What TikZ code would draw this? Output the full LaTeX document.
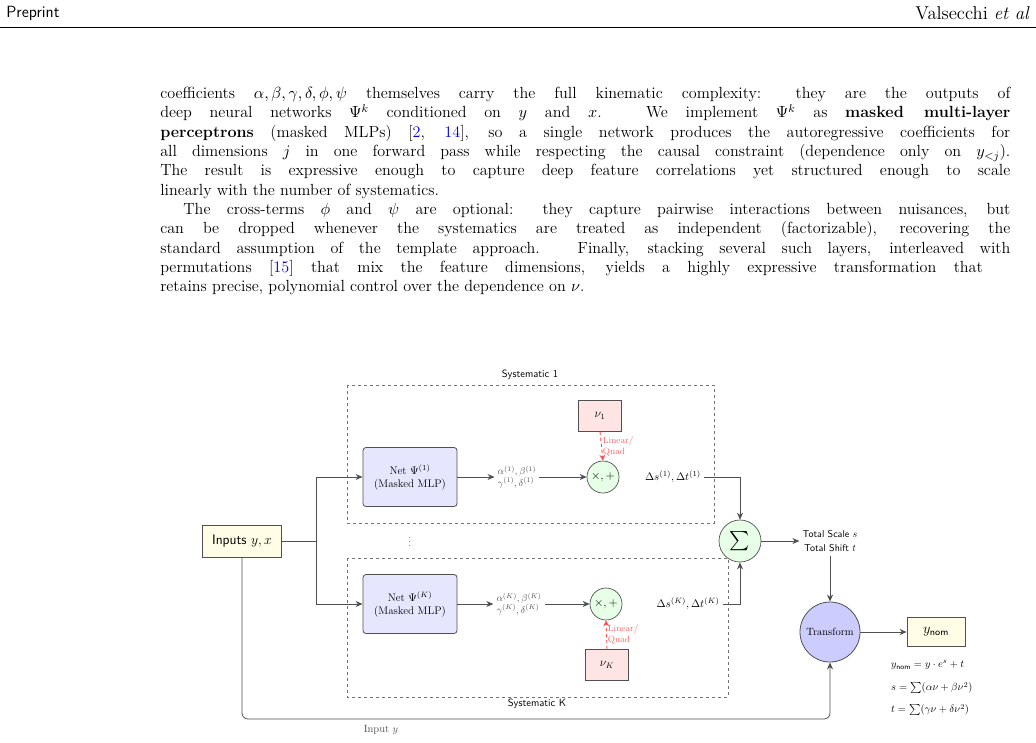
\RequirePackage{fix-cm}
\documentclass[tikz,border=0pt]{standalone}
\usepackage{amsmath}
\usetikzlibrary{arrows.meta,calc}
\definecolor{lnk}{RGB}{0,0,230}
\definecolor{ln}{RGB}{80,80,80}
\begin{document}
\begin{tikzpicture}[x=1pt,y=-1pt,
  line/.style={draw=ln,line width=0.8pt},
  arr/.style={line,-{Stealth[length=7pt,width=6pt]}},
  net/.style={draw=ln,line width=0.8pt,fill={rgb,255:red,230;green,230;blue,255},rounded corners=3pt,minimum width=94pt,minimum height=59pt,align=center,font=\fontsize{11}{13}\selectfont},
  op/.style={circle,draw=ln,line width=0.7pt,fill={rgb,255:red,230;green,255;blue,230},minimum size=32pt,inner sep=0pt,font=\fontsize{12}{14}\selectfont},
  nu/.style={draw=ln,line width=0.7pt,fill={rgb,255:red,255;green,228;blue,228},minimum width=43pt,minimum height=31pt,inner sep=0pt,font=\fontsize{12}{14}\selectfont},
  coef/.style={text=ln,align=left,inner sep=0pt,font=\fontsize{10}{11.5}\selectfont},
  dl/.style={inner sep=0pt,font=\fontsize{11}{13}\selectfont},
  sysbox/.style={draw=ln!80,dashed,line width=0.6pt},
  red/.style={draw={rgb,255:red,255;green,80;blue,80},dashed,line width=0.9pt,-{Stealth[length=6pt,width=6pt]}},
  redl/.style={text={rgb,255:red,255;green,100;blue,100},align=left,inner sep=1pt,font=\fontsize{9}{11}\selectfont},
  eq/.style={anchor=west,inner sep=0pt,font=\fontsize{10.5}{12}\selectfont}
]
\useasboundingbox (0,0) rectangle (1036,742);
% header
\node[anchor=west,inner sep=0pt,scale=1.35,font=\sffamily\fontsize{12}{14}\selectfont] (hl) at (6,13) {Preprint};
\node[anchor=east,inner sep=0pt,scale=1.55,font=\fontsize{12}{14}\selectfont] (hr) at (1030,13) {Valsecchi \emph{et al}};
\draw[line width=0.5pt] (0,27) -- (1036,27);
% paragraph
\node[anchor=north west,inner sep=0pt,scale=1.38,text width=616pt,align=justify,font=\fontsize{11.7}{14}\selectfont] (par) at (160,87) {%
coefficients $\alpha,\beta,\gamma,\delta,\phi,\psi$ themselves carry the full kinematic complexity: they are the outputs of\linebreak
deep neural networks $\Psi^k$ conditioned on $y$ and $x$. We implement $\Psi^k$ as \textbf{masked multi-layer}\linebreak
\textbf{perceptrons} (masked MLPs) [\textcolor{lnk}{2}, \textcolor{lnk}{14}], so a single network produces the autoregressive coefficients for\linebreak
all dimensions $j$ in one forward pass while respecting the causal constraint (dependence only on $y_{<j}$).\linebreak
The result is expressive enough to capture deep feature correlations yet structured enough to scale\linebreak
linearly with the number of systematics.\par
\hspace*{16.7pt}The cross-terms $\phi$ and $\psi$ are optional: they capture pairwise interactions between nuisances, but\linebreak
can be dropped whenever the systematics are treated as independent (factorizable), recovering the\linebreak
standard assumption of the template approach. Finally, stacking several such layers, interleaved with\linebreak
permutations [\textcolor{lnk}{15}] that mix the feature dimensions, yields a highly expressive transformation that\hspace*{20pt}\linebreak
retains precise, polynomial control over the dependence on $\nu$.};
% systematic boxes
\draw[sysbox] (347,385) rectangle (714,523);
\node[inner sep=0pt,font=\sffamily\fontsize{10.5}{12}\selectfont] (s1) at (530,375) {Systematic 1};
\draw[sysbox] (347,558) rectangle (728,697);
\node[inner sep=0pt,font=\sffamily\fontsize{10.5}{12}\selectfont] (sk) at (537,704) {Systematic K};
% nodes
\node[draw=ln,line width=0.8pt,fill={rgb,255:red,255;green,253;blue,230},minimum width=79pt,minimum height=32pt,inner sep=0pt,font=\sffamily\fontsize{12}{14}\selectfont] (in) at (242,541) {\scalebox{1.15}{Inputs $y,x$}};
\coordinate (j) at (316,541);
\node[net] (n1) at (410,477) {Net $\Psi^{(1)}$\\(Masked MLP)};
\node[net] (nk) at (410,604) {Net $\Psi^{(K)}$\\(Masked MLP)};
\node[inner sep=0pt,font=\fontsize{9}{10}\selectfont] (dots) at (410,539) {$\vdots$};
\node[coef] (c1) at (517,477) {$\alpha^{(1)},\beta^{(1)}$\\$\gamma^{(1)},\delta^{(1)}$};
\node[coef] (ck) at (519,604) {$\alpha^{(K)},\beta^{(K)}$\\$\gamma^{(K)},\delta^{(K)}$};
\node[op] (o1) at (603,477) {$\times,+$};
\node[op] (ok) at (606,604) {$\times,+$};
\node[nu] (v1) at (600,416) {$\nu_1$};
\node[nu] (vk) at (607,665) {$\nu_K$};
\node[dl] (d1) at (673,477) {$\Delta s^{(1)},\Delta t^{(1)}$};
\node[dl] (dk) at (688,604) {$\Delta s^{(K)},\Delta t^{(K)}$};
\node[op,minimum size=42pt,font=\fontsize{12}{14}\selectfont] (sig) at (740,541) {\scalebox{1.6}{$\sum$}};
\node[inner sep=0pt,align=center,font=\sffamily\fontsize{10}{14}\selectfont] (tot) at (830,541) {Total Scale $s$\\Total Shift $t$};
\node[circle,draw=ln,line width=0.8pt,fill={rgb,255:red,204;green,204;blue,255},minimum size=60pt,inner sep=0pt,font=\fontsize{10.5}{12}\selectfont] (tr) at (830,632) {Transform};
\node[draw=ln,line width=0.8pt,fill={rgb,255:red,255;green,253;blue,230},minimum width=58pt,minimum height=29pt,inner sep=0pt,font=\fontsize{12}{14}\selectfont] (yn) at (936,632) {\scalebox{1.2}{$y_{\textsf{nom}}$}};
\node[eq] (e1) at (891,665) {$y_{\textsf{nom}}=y\cdot e^{s}+t$};
\node[eq] (e2) at (891,688) {$s=\sum(\alpha\nu+\beta\nu^2)$};
\node[eq] (e3) at (891,710) {$t=\sum(\gamma\nu+\delta\nu^2)$};
\node[text=ln,inner sep=0pt,font=\fontsize{10.5}{12}\selectfont] (iy) at (381,730) {Input $y$};
% connectors
\draw[line] (in.east) -- (j);
\draw[arr] (j) |- (n1.west);
\draw[arr] (j) |- (nk.west);
\draw[arr] (n1.east) -- ($(c1.west)+(-3,0)$);
\draw[arr] (nk.east) -- ($(ck.west)+(-3,0)$);
\draw[arr] ($(c1.east)+(3,0)$) -- (o1.west);
\draw[arr] ($(ck.east)+(3,0)$) -- (ok.west);
\draw[red] (v1.south) -- (o1.north) node[redl,midway,anchor=west] {Linear/\\Quad};
\draw[red] (vk.north) -- (ok.south) node[redl,midway,anchor=west] {Linear/\\Quad};
\draw[arr] ($(d1.east)+(3,0)$) -| (sig.north);
\draw[arr] ($(dk.east)+(3,0)$) -| (sig.south);
\draw[arr] (sig.east) -- ($(tot.west)+(-3,0)$);
\draw[arr] ($(tot.south)+(0,4)$) -- (tr.north);
\draw[arr] (tr.east) -- (yn.west);
\draw[arr,rounded corners=6pt] (in.south) -- (242,719) -- (830,719) -- (tr.south);
\end{tikzpicture}
\end{document}
